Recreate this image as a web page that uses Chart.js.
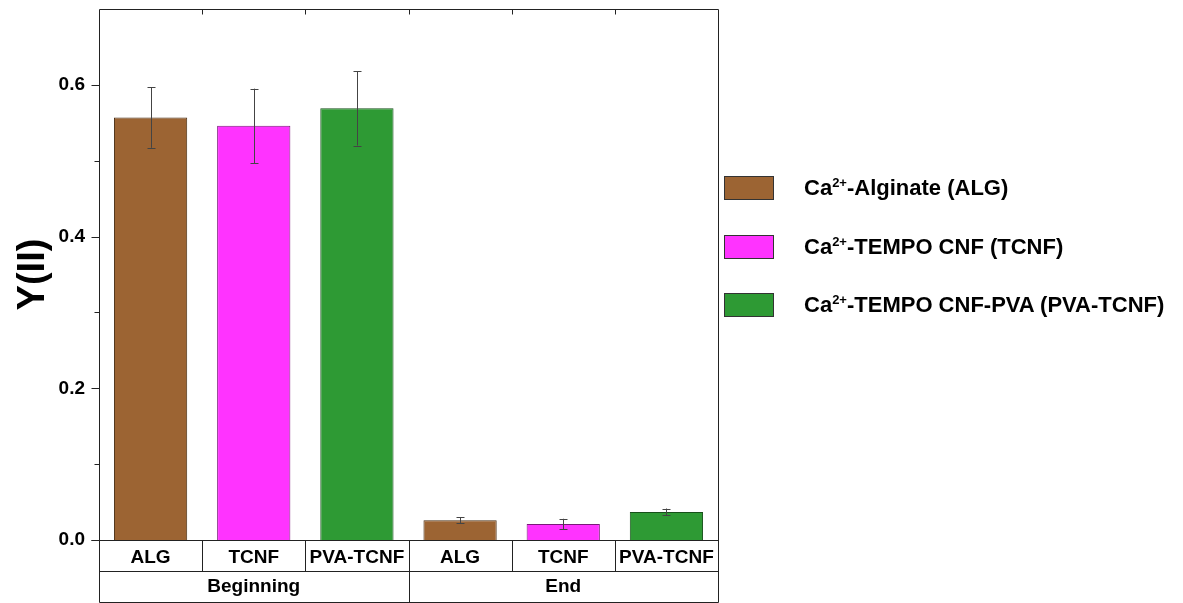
<!DOCTYPE html>
<html>
<head>
<meta charset="utf-8">
<script src="https://cdn.jsdelivr.net/npm/chart.js@4.4.1/dist/chart.umd.min.js"></script>
<style>
  html, body { margin:0; padding:0; background:#fff; }
  #wrap { position:relative; width:1183px; height:603px; }
  #c { position:absolute; left:0; top:0; }
  #legend { position:absolute; left:724px; top:0; font-family:'Liberation Sans', Arial, sans-serif; font-weight:bold; font-size:22px; color:#000; }
  .row { position:absolute; left:0; height:24px; white-space:nowrap; }
  .box { position:absolute; left:0; top:0; width:48px; height:22px; border:1px solid #333; }
  .lbl { position:absolute; left:80px; top:0; line-height:24px; }
  .lbl sup { font-size:13px; vertical-align:8px; line-height:0; }
</style>
</head>
<body>
<div id="wrap">
  <canvas id="c" width="1183" height="603"></canvas>
  <div id="legend"></div>
</div>
<script>
// samples and stages
const samples = ['ALG', 'TCNF', 'PVA-TCNF'];
const stages = ['Beginning', 'End'];
const legendNames = ['Alginate (ALG)', 'TEMPO CNF (TCNF)', 'TEMPO CNF-PVA (PVA-TCNF)'];

// Y(II) values and error (sd)
const beginVals = [0.557, 0.546, 0.569];
const beginErr  = [0.040, 0.049, 0.049];
const endVals   = [0.026, 0.021, 0.037];
const endErr    = [0.004, 0.007, 0.0045];

const yTicks = { min: 0, max: 0.7, step: 0.1 };

const fills   = ['#9C6433', '#FF33FF', '#2E9A34'];
const borders = ['#4a2e14', '#7a1a7a', '#17501a'];

const FONT = "'Liberation Sans', Arial, sans-serif";

const labels = stages.flatMap(() => samples);
const values = [...beginVals, ...endVals];
const errs   = [...beginErr, ...endErr];

// —— 图例（HTML，上标 2+） —— //
const legend = document.getElementById('legend');
const rowTops = [176, 235, 293];
legendNames.forEach((name, i) => {
  const r = document.createElement('div');
  r.className = 'row';
  r.style.top = rowTops[i] + 'px';
  r.innerHTML = `<div class="box" style="background:${fills[i]}"></div>` +
    `<div class="lbl">Ca<sup>2+</sup>-${name}</div>`;
  legend.appendChild(r);
});

function px(v){ return Math.round(v) + 0.5; }

const errorBars = {
  id: 'errorBars',
  afterDatasetsDraw(chart){
    const { ctx, scales: { x, y } } = chart;
    ctx.save();
    ctx.strokeStyle = '#444';
    ctx.lineWidth = 1;
    values.forEach((v, i) => {
      const cx = px(x.getPixelForValue(i));
      const hi = y.getPixelForValue(v + errs[i]);
      const lo = y.getPixelForValue(v - errs[i]);
      ctx.beginPath();
      ctx.moveTo(cx, hi); ctx.lineTo(cx, lo);
      ctx.moveTo(cx - 4, px(hi)); ctx.lineTo(cx + 4, px(hi));
      ctx.moveTo(cx - 4, px(lo)); ctx.lineTo(cx + 4, px(lo));
      ctx.stroke();
    });
    ctx.restore();
  }
};

// frame + y ticks + two-row category table under the plot
const frameTable = {
  id: 'frameTable',
  afterDraw(chart){
    const { ctx, chartArea: a, scales: { x, y } } = chart;
    const L = px(a.left), R = px(a.right), T = px(a.top), B = px(a.bottom);
    const row1 = px(a.bottom + 31), row2 = px(a.bottom + 62);
    const step = (a.right - a.left) / labels.length;
    ctx.save();
    ctx.strokeStyle = '#222';
    ctx.lineWidth = 1;
    ctx.beginPath();
    // outer frame
    ctx.moveTo(L, T); ctx.lineTo(R, T);
    ctx.moveTo(L, T); ctx.lineTo(L, row2);
    ctx.moveTo(R, T); ctx.lineTo(R, row2);
    ctx.moveTo(L - 8, B); ctx.lineTo(R, B);
    ctx.moveTo(L, row1); ctx.lineTo(R, row1);
    ctx.moveTo(L, row2); ctx.lineTo(R, row2);
    // category boundaries
    for (let i = 1; i < labels.length; i++){
      const bx = px(x.getPixelForValue(i) - step / 2);
      ctx.moveTo(bx, T); ctx.lineTo(bx, T + 5);
      ctx.moveTo(bx, B); ctx.lineTo(bx, i % samples.length === 0 ? row2 : row1);
    }
    // y ticks, minor ones shorter
    y.ticks.forEach(t => {
      if (t.value >= yTicks.max - 1e-9) return;
      const ty = px(y.getPixelForValue(t.value));
      const major = Math.round(t.value * 10) % 2 === 0;
      ctx.moveTo(L - (major ? 8 : 5), ty); ctx.lineTo(L, ty);
    });
    ctx.stroke();

    // group labels
    ctx.fillStyle = '#000';
    ctx.font = `bold 19px ${FONT}`;
    ctx.textAlign = 'center';
    ctx.textBaseline = 'middle';
    stages.forEach((s, g) => {
      const mid = x.getPixelForValue(g * samples.length + (samples.length - 1) / 2);
      ctx.fillText(s, mid, a.bottom + 47);
    });
    ctx.restore();
  }
};

new Chart(document.getElementById('c'), {
  type: 'bar',
  data: {
    labels,
    datasets: [{
      data: values,
      backgroundColor: labels.map((_, i) => fills[i % samples.length]),
      borderColor: labels.map((_, i) => borders[i % samples.length]),
      borderWidth: 1,
      borderSkipped: 'bottom',
      barPercentage: 0.71,
      categoryPercentage: 1
    }]
  },
  options: {
    responsive: false,
    animation: false,
    layout: { autoPadding: false, padding: { top: 9, right: 465, bottom: 1, left: 0 } },
    plugins: { legend: { display: false }, tooltip: { enabled: false } },
    scales: {
      x: {
        grid: { display: false, drawTicks: false },
        border: { display: false },
        ticks: { color: '#000', padding: 6, font: { family: FONT, size: 19, weight: 'bold' } },
        afterFit(s){ s.height = 62; s.paddingLeft = 0; s.paddingRight = 0; }
      },
      y: {
        min: yTicks.min, max: yTicks.max,
        grid: { display: false, drawTicks: false },
        border: { display: false },
        ticks: {
          stepSize: yTicks.step, color: '#000', padding: 14,
          font: { family: FONT, size: 19, weight: 'bold' },
          callback: v => (Math.round(v * 10) % 2 === 0 && v < yTicks.max - 1e-9) ? v.toFixed(1) : ''
        },
        title: { display: true, text: 'Y(II)', color: '#000', padding: { top: 11, bottom: 0 },
          font: { family: FONT, size: 38, weight: 'bold' } },
        afterFit(s){ s.width = 99; s.paddingTop = 0; s.paddingBottom = 0; }
      }
    }
  },
  plugins: [errorBars, frameTable]
});
</script>
</body>
</html>
